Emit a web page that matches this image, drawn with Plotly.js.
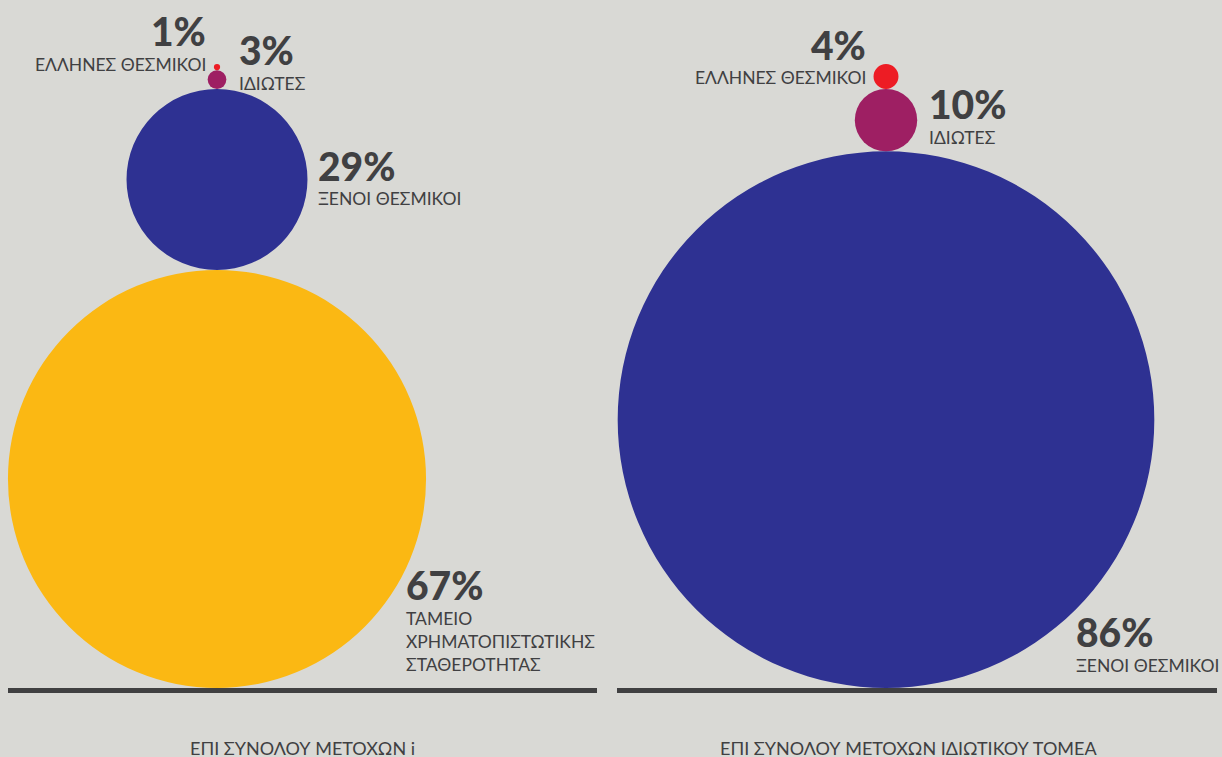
<!DOCTYPE html>
<html>
<head>
<meta charset="utf-8">
<script src="https://cdn.plot.ly/plotly-3.0.1.min.js"></script>
<style>
html,body{margin:0;padding:0;background:#d9d9d5;}
#chart{width:1222px;height:757px;}
</style>
</head>
<body>
<div id="chart"></div>
<script>
// ---- data ----
const panelTitles = ['ΕΠΙ ΣΥΝΟΛΟΥ ΜΕΤΟΧΩΝ i', 'ΕΠΙ ΣΥΝΟΛΟΥ ΜΕΤΟΧΩΝ ΙΔΙΩΤΙΚΟΥ ΤΟΜΕΑ'];
const leftCategories = ['ΤΑΜΕΙΟ<br>ΧΡΗΜΑΤΟΠΙΣΤΩΤΙΚΗΣ<br>ΣΤΑΘΕΡΟΤΗΤΑΣ', 'ΞΕΝΟΙ ΘΕΣΜΙΚΟΙ', 'ΙΔΙΩΤΕΣ', 'ΕΛΛΗΝΕΣ ΘΕΣΜΙΚΟΙ'];
const leftValues = [67, 29, 3, 1];
const rightCategories = ['ΞΕΝΟΙ ΘΕΣΜΙΚΟΙ', 'ΙΔΙΩΤΕΣ', 'ΕΛΛΗΝΕΣ ΘΕΣΜΙΚΟΙ'];
const rightValues = [86, 10, 4];

// ---- styles / layout constants (not data) ----
const colorOf = {
  'ΤΑΜΕΙΟ<br>ΧΡΗΜΑΤΟΠΙΣΤΩΤΙΚΗΣ<br>ΣΤΑΘΕΡΟΤΗΤΑΣ': '#fbb813',
  'ΞΕΝΟΙ ΘΕΣΜΙΚΟΙ': '#2e3192',
  'ΙΔΙΩΤΕΣ': '#9e1f63',
  'ΕΛΛΗΝΕΣ ΘΕΣΜΙΚΟΙ': '#ed1c24'
};
const K = 6.24;            // pixels per percentage point of diameter
const W = 1222, H = 757;
const px = v => v / K;     // convert pixel layout constant into axis units
const TEXT = '#404042';
const FONT = 'Lato, "Open Sans", sans-serif';

const panels = [
  {cats: leftCategories, vals: leftValues, cx: 217, base: 688, line: [8, 597], titleX: 302,
   place: [{dx: 188, dy: 106, side: 'left'}, {dx: 10, dy: -13.5, side: 'left', rel: true},
           {dx: 11.6, dy: -29.6, side: 'left', rel: true}, {dx: -7, dy: -36, side: 'right', rel: true}]},
  {cats: rightCategories, vals: rightValues, cx: 886, base: 688, line: [617, 1217], titleX: 908,
   place: [{dx: 189, dy: 212.5, side: 'left'}, {dx: 11, dy: -16, side: 'left', rel: true},
           {dx: -7, dy: -31.5, side: 'right', rel: true}]}
];

const shapes = [];
const annotations = [];

panels.forEach((p, pi) => {
  // baseline
  shapes.push({type: 'line', xref: 'x', yref: 'y', x0: px(p.line[0]), x1: px(p.line[1]),
    y0: px(p.base + 2.5), y1: px(p.base + 2.5), line: {color: '#404041', width: 5}});
  let cur = px(p.base);
  const cx = px(p.cx);
  p.vals.forEach((v, i) => {
    const top = cur - v;          // diameter == value in axis units
    const cy = (cur + top) / 2;
    const r = v / 2;
    shapes.push({type: 'circle', xref: 'x', yref: 'y', x0: cx - r, x1: cx + r, y0: top, y1: cur,
      fillcolor: colorOf[p.cats[i]], line: {width: 0}, layer: 'above'});
    const pl = p.place[i];
    let ax;
    if (pl.rel) ax = pl.side === 'left' ? cx + r + px(pl.dx) : cx - r + px(pl.dx);
    else ax = cx + px(pl.dx);
    const ay = cy + px(pl.dy);
    annotations.push({xref: 'x', yref: 'y', x: ax, y: ay, xanchor: pl.side, yanchor: 'middle',
      text: v + '%', showarrow: false, borderpad: 0,
      font: {family: FONT, size: 39, weight: 900, color: TEXT}});
    const nLines = p.cats[i].split('<br>').length;
    annotations.push({xref: 'x', yref: 'y', x: ax, y: ay + px(33 + (nLines - 1) * 12),
      xanchor: pl.side, yanchor: 'middle', align: pl.side, text: p.cats[i], showarrow: false, borderpad: 0,
      font: {family: FONT, size: 17.5, color: TEXT}});
    cur = top;
  });
  annotations.push({xref: 'x', yref: 'y', x: px(p.titleX), y: px(748), xanchor: 'center', yanchor: 'middle',
    text: panelTitles[pi], showarrow: false, borderpad: 0, font: {family: FONT, size: 18, color: TEXT}});
});

const layout = {
  width: W, height: H,
  margin: {l: 0, r: 0, t: 0, b: 0},
  paper_bgcolor: '#d9d9d5', plot_bgcolor: '#d9d9d5',
  xaxis: {range: [0, px(W)], visible: false, fixedrange: true},
  yaxis: {range: [px(H), 0], visible: false, fixedrange: true},
  shapes: shapes, annotations: annotations, showlegend: false
};

Plotly.newPlot('chart', [{x: [], y: [], type: 'scatter', hoverinfo: 'skip'}], layout, {displayModeBar: false, staticPlot: true});
</script>
</body>
</html>
